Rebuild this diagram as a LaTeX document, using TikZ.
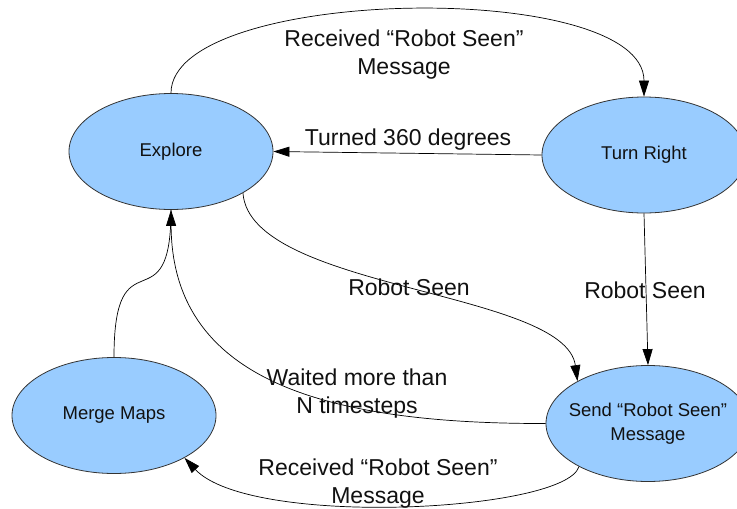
\documentclass[tikz,border=0pt]{standalone}
\usepackage{fontspec}
\setmainfont{Liberation Sans}
\usetikzlibrary{shapes.geometric,arrows.meta}

\definecolor{statefill}{HTML}{99CCFF}
\definecolor{stateline}{HTML}{333333}
\definecolor{inktext}{HTML}{111111}

\tikzset{
  state/.style={ellipse, draw=stateline, line width=0.8pt, fill=statefill,
    minimum width=204pt, minimum height=116pt, inner sep=0pt,
    font=\fontsize{18.5}{22}\selectfont, text=inktext, align=center},
  trans/.style={draw=black, line width=0.7pt,
    -{Triangle[length=16pt,width=10pt]}},
  plain/.style={draw=black, line width=0.7pt},
  elabel/.style={font=\fontsize{23}{28}\selectfont, text=inktext,
    align=center, inner sep=0pt}
}

\begin{document}
\begin{tikzpicture}[x=1pt,y=-1pt]
  \useasboundingbox (0,0) rectangle (737,509);

  % states
  \node[state] (explore) at (171,151.5) {Explore};
  \node[state] (turn)    at (644,155)   {Turn Right};
  \node[state] (merge)   at (114,415.5) {Merge Maps};
  \node[state, inner xsep=-12pt] (send) at (648,423.5)
       {Send “Robot Seen”\\[1.5pt]Message};

  % transitions
  \draw[trans] (explore.north) .. controls (171,-14) and (644,-22) .. (turn.north);
  \draw[trans] (turn.west) -- (explore.east);
  \draw[trans] (explore.-30) .. controls (250,290) and (565,290) .. (send.149);
  \draw[trans] (turn.south) -- (send.north);
  \draw[plain] (merge.north) .. controls (114,230) and (171,330) .. (explore.south);
  \draw[trans] (send.west) .. controls (320,424) and (172,378) .. (explore.south);
  \draw[trans] (send.212) .. controls (565,512) and (250,528) .. (merge.-31);

  % transition labels
  \node[elabel] (lbla) at (404,55)    {Received “Robot Seen”\\Message};
  \node[elabel] (lblb) at (408,140)   {Turned 360 degrees};
  \node[elabel] (lblc) at (409,287.5) {Robot Seen};
  \node[elabel] (lbld) at (645,290.5) {Robot Seen};
  \node[elabel] (lble) at (357,394)   {Waited more than\\N timesteps};
  \node[elabel] (lblf) at (378,484)   {Received “Robot Seen”\\Message};
\end{tikzpicture}
\end{document}
